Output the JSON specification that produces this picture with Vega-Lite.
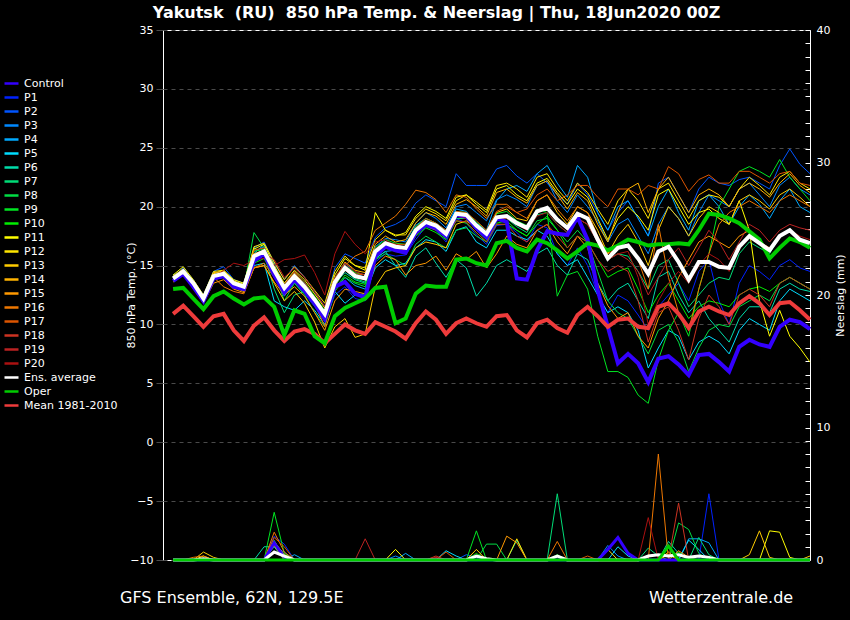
{
  "$schema": "https://vega.github.io/schema/vega-lite/v6.json",
  "width": 647,
  "height": 530,
  "autosize": {"type": "none"},
  "padding": {"left": 163, "top": 30, "right": 40, "bottom": 60},
  "background": "#000000",
  "title": {
    "text": "Yakutsk \u00a0(RU) \u00a0850 hPa Temp. & Neerslag | Thu, 18Jun2020 00Z",
    "color": "#ffffff",
    "font": "DejaVu Sans",
    "fontSize": 16,
    "fontWeight": "bold",
    "anchor": "middle",
    "dx": -50,
    "offset": 3
  },
  "config": {
    "view": {"stroke": "#ffffff", "strokeWidth": 1},
    "font": "DejaVu Sans",
    "axis": {"labelFont": "DejaVu Sans", "titleFont": "DejaVu Sans"}
  },
  "datasets": {
    "temp": [
      {"h":6,"Control":13.7,"P1":13.8,"P2":14.0,"P3":14.1,"P4":14.2,"P5":13.9,"P6":13.8,"P7":13.9,"P8":14.0,"P9":13.9,"P10":13.7,"P11":14.2,"P12":14.1,"P13":13.8,"P14":14.0,"P15":13.6,"P16":14.1,"P17":14.0,"P18":13.8,"P19":13.9,"P20":13.7,"Avg":13.9,"Oper":13.0,"Mean":10.9},
      {"h":12,"Control":14.3,"P1":14.4,"P2":14.8,"P3":14.6,"P4":14.5,"P5":14.3,"P6":14.4,"P7":14.6,"P8":14.5,"P9":14.5,"P10":14.2,"P11":14.9,"P12":14.7,"P13":14.4,"P14":14.7,"P15":14.2,"P16":14.6,"P17":14.5,"P18":14.3,"P19":14.4,"P20":14.3,"Avg":14.5,"Oper":13.1,"Mean":11.6},
      {"h":18,"Control":13.2,"P1":13.0,"P2":13.8,"P3":13.6,"P4":13.5,"P5":13.3,"P6":13.4,"P7":13.6,"P8":13.4,"P9":13.5,"P10":13.2,"P11":13.8,"P12":13.7,"P13":13.3,"P14":13.6,"P15":13.1,"P16":13.4,"P17":13.5,"P18":13.3,"P19":13.4,"P20":13.3,"Avg":13.5,"Oper":12.2,"Mean":10.7},
      {"h":24,"Control":12.0,"P1":12.0,"P2":12.5,"P3":12.3,"P4":12.4,"P5":12.0,"P6":12.1,"P7":12.3,"P8":12.2,"P9":12.2,"P10":12.0,"P11":12.5,"P12":12.4,"P13":12.1,"P14":12.3,"P15":11.8,"P16":12.0,"P17":12.3,"P18":12.0,"P19":12.2,"P20":12.1,"Avg":12.2,"Oper":11.3,"Mean":9.8},
      {"h":30,"Control":13.9,"P1":14.0,"P2":14.5,"P3":14.3,"P4":14.2,"P5":14.0,"P6":14.0,"P7":14.2,"P8":14.1,"P9":14.1,"P10":13.8,"P11":14.5,"P12":14.3,"P13":13.9,"P14":14.4,"P15":13.5,"P16":14.0,"P17":14.2,"P18":14.0,"P19":14.1,"P20":14.0,"Avg":14.1,"Oper":12.4,"Mean":10.7},
      {"h":36,"Control":14.1,"P1":14.5,"P2":14.9,"P3":14.6,"P4":14.4,"P5":14.2,"P6":14.2,"P7":14.3,"P8":14.3,"P9":14.4,"P10":14.0,"P11":14.6,"P12":14.6,"P13":14.0,"P14":14.5,"P15":13.8,"P16":13.2,"P17":14.4,"P18":14.2,"P19":14.3,"P20":14.6,"Avg":14.3,"Oper":12.8,"Mean":10.9},
      {"h":42,"Control":13.2,"P1":13.4,"P2":13.8,"P3":13.6,"P4":13.6,"P5":13.3,"P6":13.5,"P7":13.5,"P8":13.4,"P9":13.6,"P10":13.3,"P11":13.8,"P12":13.7,"P13":13.2,"P14":13.6,"P15":13.0,"P16":12.8,"P17":13.5,"P18":13.3,"P19":13.6,"P20":15.2,"Avg":13.5,"Oper":12.2,"Mean":9.5},
      {"h":48,"Control":13.0,"P1":13.0,"P2":13.5,"P3":13.4,"P4":13.3,"P5":13.0,"P6":13.1,"P7":13.2,"P8":13.1,"P9":13.3,"P10":12.9,"P11":13.5,"P12":13.4,"P13":12.8,"P14":13.3,"P15":12.7,"P16":12.6,"P17":13.2,"P18":13.0,"P19":13.2,"P20":15.0,"Avg":13.2,"Oper":11.7,"Mean":8.6},
      {"h":54,"Control":15.4,"P1":15.5,"P2":16.5,"P3":16.2,"P4":16.0,"P5":15.0,"P6":15.6,"P7":16.5,"P8":17.8,"P9":16.2,"P10":15.2,"P11":16.4,"P12":16.6,"P13":14.8,"P14":16.0,"P15":14.8,"P16":14.8,"P17":16.3,"P18":15.6,"P19":15.8,"P20":15.5,"Avg":15.8,"Oper":12.2,"Mean":9.9},
      {"h":60,"Control":16.0,"P1":15.9,"P2":17.0,"P3":16.6,"P4":16.8,"P5":15.2,"P6":15.8,"P7":16.0,"P8":16.5,"P9":16.4,"P10":15.6,"P11":16.8,"P12":16.9,"P13":15.0,"P14":16.3,"P15":15.0,"P16":15.2,"P17":16.5,"P18":15.8,"P19":16.0,"P20":15.6,"Avg":16.2,"Oper":12.3,"Mean":10.6},
      {"h":66,"Control":14.2,"P1":14.0,"P2":15.2,"P3":14.6,"P4":15.0,"P5":12.0,"P6":14.2,"P7":13.0,"P8":14.5,"P9":14.8,"P10":14.0,"P11":15.0,"P12":15.3,"P13":13.5,"P14":14.8,"P15":13.6,"P16":14.0,"P17":14.8,"P18":14.5,"P19":15.5,"P20":15.0,"Avg":14.6,"Oper":11.5,"Mean":9.5},
      {"h":72,"Control":12.7,"P1":12.5,"P2":13.8,"P3":13.0,"P4":13.2,"P5":11.5,"P6":12.4,"P7":11.0,"P8":12.0,"P9":13.4,"P10":12.8,"P11":13.5,"P12":13.8,"P13":12.0,"P14":13.2,"P15":12.5,"P16":12.6,"P17":13.3,"P18":13.4,"P19":14.0,"P20":15.5,"Avg":13.1,"Oper":9.1,"Mean":8.6},
      {"h":78,"Control":13.8,"P1":13.5,"P2":15.0,"P3":14.2,"P4":14.0,"P5":11.2,"P6":13.6,"P7":12.5,"P8":13.5,"P9":14.5,"P10":13.6,"P11":14.6,"P12":14.9,"P13":12.8,"P14":14.4,"P15":13.2,"P16":13.8,"P17":14.2,"P18":14.5,"P19":14.8,"P20":15.6,"Avg":14.1,"Oper":11.2,"Mean":9.4},
      {"h":84,"Control":12.9,"P1":12.6,"P2":14.0,"P3":13.5,"P4":13.0,"P5":12.0,"P6":13.0,"P7":12.8,"P8":12.5,"P9":13.6,"P10":12.8,"P11":13.8,"P12":14.0,"P13":11.8,"P14":13.4,"P15":12.4,"P16":13.2,"P17":13.4,"P18":13.6,"P19":14.0,"P20":15.9,"Avg":13.2,"Oper":10.9,"Mean":9.6},
      {"h":90,"Control":11.8,"P1":11.5,"P2":12.8,"P3":12.3,"P4":11.8,"P5":11.2,"P6":11.9,"P7":11.6,"P8":11.0,"P9":12.4,"P10":11.7,"P11":12.6,"P12":12.9,"P13":10.2,"P14":12.2,"P15":11.0,"P16":11.8,"P17":12.3,"P18":12.2,"P19":12.8,"P20":14.4,"Avg":12.1,"Oper":9.0,"Mean":9.2},
      {"h":96,"Control":10.5,"P1":10.2,"P2":11.5,"P3":11.0,"P4":10.6,"P5":10.0,"P6":10.7,"P7":10.5,"P8":9.8,"P9":11.2,"P10":10.4,"P11":11.4,"P12":11.8,"P13":8.0,"P14":11.0,"P15":9.5,"P16":9.8,"P17":11.1,"P18":10.8,"P19":11.5,"P20":12.5,"Avg":10.9,"Oper":8.4,"Mean":8.4},
      {"h":102,"Control":13.2,"P1":12.5,"P2":14.8,"P3":13.8,"P4":13.0,"P5":12.8,"P6":13.5,"P7":13.2,"P8":12.8,"P9":14.0,"P10":13.0,"P11":14.2,"P12":14.5,"P13":9.8,"P14":13.8,"P15":12.0,"P16":13.2,"P17":13.8,"P18":13.4,"P19":14.0,"P20":16.0,"Avg":13.6,"Oper":10.7,"Mean":9.2},
      {"h":108,"Control":13.6,"P1":13.2,"P2":16.0,"P3":15.2,"P4":14.0,"P5":11.8,"P6":14.4,"P7":14.6,"P8":14.0,"P9":15.0,"P10":14.2,"P11":15.6,"P12":15.8,"P13":10.5,"P14":15.3,"P15":13.0,"P16":15.0,"P17":15.0,"P18":14.6,"P19":15.2,"P20":17.9,"Avg":14.8,"Oper":11.4,"Mean":10.0},
      {"h":114,"Control":12.6,"P1":12.2,"P2":15.6,"P3":14.3,"P4":13.3,"P5":12.5,"P6":13.8,"P7":13.9,"P8":13.5,"P9":14.4,"P10":13.6,"P11":15.0,"P12":15.0,"P13":8.9,"P14":14.6,"P15":12.8,"P16":15.8,"P17":14.3,"P18":14.0,"P19":14.5,"P20":16.8,"Avg":14.1,"Oper":11.8,"Mean":9.5},
      {"h":120,"Control":12.3,"P1":12.0,"P2":15.2,"P3":14.0,"P4":13.0,"P5":12.6,"P6":13.5,"P7":13.6,"P8":13.2,"P9":14.2,"P10":13.4,"P11":14.6,"P12":14.8,"P13":9.2,"P14":14.4,"P15":12.6,"P16":16.2,"P17":14.2,"P18":13.8,"P19":14.2,"P20":16.0,"Avg":13.9,"Oper":12.2,"Mean":9.2},
      {"h":126,"Control":15.8,"P1":15.3,"P2":17.4,"P3":16.6,"P4":15.6,"P5":14.8,"P6":15.6,"P7":16.0,"P8":15.5,"P9":16.5,"P10":15.8,"P11":19.5,"P12":17.2,"P13":13.2,"P14":16.8,"P15":15.0,"P16":18.0,"P17":16.4,"P18":16.0,"P19":16.4,"P20":17.0,"Avg":16.2,"Oper":13.1,"Mean":10.2},
      {"h":132,"Control":16.6,"P1":16.0,"P2":18.2,"P3":17.3,"P4":16.2,"P5":15.5,"P6":16.2,"P7":16.8,"P8":16.0,"P9":17.2,"P10":16.5,"P11":18.0,"P12":18.0,"P13":14.5,"P14":17.5,"P15":15.8,"P16":18.6,"P17":17.0,"P18":16.6,"P19":17.0,"P20":17.2,"Avg":16.9,"Oper":13.2,"Mean":9.8},
      {"h":138,"Control":16.3,"P1":15.8,"P2":18.5,"P3":17.2,"P4":16.3,"P5":15.0,"P6":15.0,"P7":16.4,"P8":15.5,"P9":16.9,"P10":16.2,"P11":17.5,"P12":17.6,"P13":14.8,"P14":17.0,"P15":15.5,"P16":19.2,"P17":16.8,"P18":16.4,"P19":16.8,"P20":16.6,"Avg":16.6,"Oper":10.1,"Mean":9.4},
      {"h":144,"Control":16.1,"P1":15.9,"P2":19.0,"P3":17.0,"P4":16.6,"P5":15.2,"P6":14.0,"P7":16.2,"P8":15.0,"P9":16.8,"P10":16.0,"P11":17.8,"P12":17.6,"P13":15.0,"P14":17.2,"P15":14.2,"P16":20.2,"P17":16.8,"P18":16.2,"P19":16.5,"P20":16.3,"Avg":16.5,"Oper":10.5,"Mean":8.8},
      {"h":150,"Control":17.8,"P1":17.2,"P2":20.3,"P3":18.6,"P4":18.4,"P5":16.5,"P6":15.8,"P7":17.7,"P8":16.8,"P9":18.3,"P10":17.5,"P11":19.2,"P12":19.0,"P13":16.5,"P14":18.6,"P15":15.0,"P16":21.4,"P17":18.2,"P18":17.6,"P19":18.0,"P20":17.8,"Avg":18.0,"Oper":12.6,"Mean":10.1},
      {"h":156,"Control":18.5,"P1":18.3,"P2":21.0,"P3":19.5,"P4":19.0,"P5":17.2,"P6":16.5,"P7":18.4,"P8":17.5,"P9":19.0,"P10":18.2,"P11":20.0,"P12":19.8,"P13":17.0,"P14":19.5,"P15":15.2,"P16":21.2,"P17":19.0,"P18":18.4,"P19":18.6,"P20":18.5,"Avg":18.7,"Oper":13.3,"Mean":11.1},
      {"h":162,"Control":18.2,"P1":18.0,"P2":20.5,"P3":19.0,"P4":18.6,"P5":17.0,"P6":15.2,"P7":18.0,"P8":17.0,"P9":18.6,"P10":17.8,"P11":19.6,"P12":19.4,"P13":16.8,"P14":19.2,"P15":15.8,"P16":20.6,"P17":18.6,"P18":18.0,"P19":18.2,"P20":18.2,"Avg":18.4,"Oper":13.2,"Mean":10.4},
      {"h":168,"Control":17.5,"P1":17.0,"P2":20.0,"P3":18.2,"P4":18.0,"P5":16.2,"P6":14.0,"P7":17.3,"P8":16.5,"P9":17.9,"P10":17.2,"P11":19.0,"P12":18.8,"P13":16.5,"P14":18.5,"P15":14.6,"P16":19.5,"P17":18.0,"P18":17.4,"P19":17.5,"P20":17.6,"Avg":17.7,"Oper":13.2,"Mean":9.2},
      {"h":174,"Control":19.3,"P1":19.0,"P2":22.8,"P3":20.0,"P4":19.8,"P5":18.0,"P6":15.5,"P7":19.0,"P8":18.0,"P9":19.6,"P10":18.8,"P11":20.8,"P12":20.5,"P13":18.5,"P14":20.2,"P15":16.0,"P16":21.0,"P17":19.6,"P18":18.8,"P19":19.2,"P20":19.2,"Avg":19.4,"Oper":15.5,"Mean":10.1},
      {"h":180,"Control":19.2,"P1":18.6,"P2":21.8,"P3":20.2,"P4":19.6,"P5":18.3,"P6":14.8,"P7":19.0,"P8":18.2,"P9":19.5,"P10":18.6,"P11":21.0,"P12":21.0,"P13":18.8,"P14":20.6,"P15":15.5,"P16":20.8,"P17":19.5,"P18":18.7,"P19":19.0,"P20":19.0,"Avg":19.3,"Oper":15.6,"Mean":10.5},
      {"h":186,"Control":18.2,"P1":17.6,"P2":21.8,"P3":19.5,"P4":18.6,"P5":17.0,"P6":12.4,"P7":18.0,"P8":17.5,"P9":18.7,"P10":17.8,"P11":20.2,"P12":20.4,"P13":18.2,"P14":20.0,"P15":16.2,"P16":19.8,"P17":18.8,"P18":17.8,"P19":18.0,"P20":18.2,"Avg":18.4,"Oper":15.2,"Mean":10.1},
      {"h":192,"Control":17.4,"P1":16.8,"P2":21.8,"P3":18.8,"P4":18.0,"P5":16.5,"P6":13.5,"P7":17.2,"P8":17.0,"P9":18.0,"P10":17.0,"P11":19.5,"P12":19.7,"P13":17.5,"P14":19.2,"P15":14.8,"P16":19.0,"P17":18.0,"P18":17.0,"P19":17.5,"P20":17.6,"Avg":17.7,"Oper":15.0,"Mean":9.8},
      {"h":198,"Control":19.0,"P1":18.4,"P2":23.2,"P3":20.6,"P4":20.5,"P5":18.0,"P6":15.0,"P7":18.8,"P8":18.5,"P9":19.4,"P10":18.6,"P11":21.5,"P12":21.8,"P13":19.5,"P14":21.2,"P15":16.0,"P16":20.2,"P17":19.6,"P18":18.5,"P19":19.0,"P20":19.0,"Avg":19.1,"Oper":16.9,"Mean":10.7},
      {"h":204,"Control":18.7,"P1":18.5,"P2":23.5,"P3":21.0,"P4":21.5,"P5":18.0,"P6":15.5,"P7":19.0,"P8":18.5,"P9":19.6,"P10":18.8,"P11":21.8,"P12":22.0,"P13":19.8,"P14":21.5,"P15":17.5,"P16":20.2,"P17":20.0,"P18":18.5,"P19":19.2,"P20":19.0,"Avg":19.2,"Oper":17.1,"Mean":10.8},
      {"h":210,"Control":13.9,"P1":17.8,"P2":22.6,"P3":20.6,"P4":21.8,"P5":17.5,"P6":15.0,"P7":18.3,"P8":18.0,"P9":18.8,"P10":18.0,"P11":21.0,"P12":21.5,"P13":19.0,"P14":20.8,"P15":16.8,"P16":19.5,"P17":19.5,"P18":17.5,"P19":18.6,"P20":18.5,"Avg":18.6,"Oper":16.5,"Mean":9.5},
      {"h":216,"Control":13.8,"P1":17.0,"P2":22.0,"P3":20.0,"P4":21.3,"P5":17.2,"P6":14.5,"P7":17.8,"P8":17.5,"P9":18.4,"P10":17.5,"P11":20.5,"P12":20.8,"P13":18.8,"P14":20.3,"P15":16.5,"P16":19.0,"P17":19.8,"P18":17.0,"P19":18.0,"P20":18.0,"Avg":18.2,"Oper":16.2,"Mean":8.9},
      {"h":222,"Control":16.3,"P1":18.5,"P2":22.8,"P3":21.8,"P4":22.8,"P5":18.0,"P6":16.0,"P7":19.3,"P8":18.8,"P9":19.8,"P10":18.5,"P11":22.0,"P12":22.5,"P13":20.5,"P14":21.8,"P15":18.0,"P16":20.5,"P17":21.0,"P18":18.0,"P19":19.5,"P20":19.2,"Avg":19.6,"Oper":17.2,"Mean":10.1},
      {"h":228,"Control":17.9,"P1":18.2,"P2":22.0,"P3":22.2,"P4":23.5,"P5":17.5,"P6":16.5,"P7":19.5,"P8":19.0,"P9":19.5,"P10":19.2,"P11":22.4,"P12":22.8,"P13":21.0,"P14":22.2,"P15":18.5,"P16":21.0,"P17":21.5,"P18":18.5,"P19":19.8,"P20":19.5,"Avg":19.9,"Oper":16.9,"Mean":10.4},
      {"h":234,"Control":17.7,"P1":16.0,"P2":21.0,"P3":20.5,"P4":22.0,"P5":16.0,"P6":15.0,"P7":18.5,"P8":18.0,"P9":12.4,"P10":18.0,"P11":21.2,"P12":21.5,"P13":19.5,"P14":21.0,"P15":17.0,"P16":19.8,"P17":20.5,"P18":17.5,"P19":18.8,"P20":18.5,"Avg":18.9,"Oper":16.3,"Mean":9.7},
      {"h":240,"Control":17.6,"P1":15.0,"P2":20.2,"P3":19.5,"P4":20.8,"P5":15.0,"P6":14.2,"P7":17.8,"P8":17.0,"P9":14.2,"P10":16.5,"P11":20.2,"P12":20.5,"P13":18.5,"P14":19.8,"P15":16.0,"P16":18.8,"P17":21.0,"P18":16.5,"P19":18.0,"P20":17.8,"Avg":18.2,"Oper":15.6,"Mean":9.3},
      {"h":246,"Control":19.1,"P1":16.5,"P2":22.0,"P3":21.0,"P4":23.5,"P5":15.5,"P6":16.0,"P7":19.0,"P8":18.0,"P9":14.5,"P10":17.5,"P11":21.5,"P12":22.0,"P13":20.0,"P14":21.2,"P15":17.5,"P16":20.0,"P17":21.8,"P18":17.5,"P19":19.0,"P20":19.0,"Avg":19.4,"Oper":16.2,"Mean":10.8},
      {"h":252,"Control":17.2,"P1":15.0,"P2":21.0,"P3":20.0,"P4":22.5,"P5":14.0,"P6":15.5,"P7":18.5,"P8":17.0,"P9":13.0,"P10":17.0,"P11":20.8,"P12":21.2,"P13":19.5,"P14":20.5,"P15":16.5,"P16":19.5,"P17":21.8,"P18":17.0,"P19":18.5,"P20":18.5,"Avg":19.0,"Oper":16.9,"Mean":11.5},
      {"h":258,"Control":12.9,"P1":12.5,"P2":19.5,"P3":18.8,"P4":19.5,"P5":12.5,"P6":13.5,"P7":17.0,"P8":14.5,"P9":9.0,"P10":15.5,"P11":19.0,"P12":19.8,"P13":18.0,"P14":18.5,"P15":13.5,"P16":17.5,"P17":20.8,"P18":15.5,"P19":17.0,"P20":17.0,"Avg":17.2,"Oper":16.7,"Mean":10.7},
      {"h":264,"Control":9.8,"P1":11.0,"P2":18.0,"P3":17.0,"P4":18.0,"P5":11.0,"P6":12.0,"P7":15.5,"P8":12.0,"P9":6.0,"P10":14.0,"P11":17.2,"P12":18.5,"P13":16.0,"P14":17.0,"P15":11.6,"P16":16.0,"P17":20.0,"P18":14.5,"P19":15.5,"P20":15.5,"Avg":15.6,"Oper":16.3,"Mean":9.8},
      {"h":270,"Control":6.7,"P1":12.5,"P2":19.5,"P3":18.5,"P4":20.0,"P5":11.5,"P6":13.0,"P7":16.0,"P8":11.0,"P9":6.0,"P10":14.5,"P11":19.0,"P12":20.5,"P13":17.5,"P14":19.5,"P15":10.5,"P16":16.5,"P17":21.5,"P18":15.0,"P19":16.0,"P20":16.0,"Avg":16.5,"Oper":16.7,"Mean":10.4},
      {"h":276,"Control":7.5,"P1":12.0,"P2":20.5,"P3":19.0,"P4":20.5,"P5":11.0,"P6":13.5,"P7":15.8,"P8":10.5,"P9":5.5,"P10":14.8,"P11":20.0,"P12":21.5,"P13":18.5,"P14":21.5,"P15":11.0,"P16":16.8,"P17":21.5,"P18":14.5,"P19":15.5,"P20":16.2,"Avg":16.7,"Oper":17.2,"Mean":10.5},
      {"h":282,"Control":6.7,"P1":10.8,"P2":19.0,"P3":17.5,"P4":19.0,"P5":9.5,"P6":12.0,"P7":14.5,"P8":9.0,"P9":4.0,"P10":13.0,"P11":19.2,"P12":20.5,"P13":17.0,"P14":22.0,"P15":9.0,"P16":15.5,"P17":21.0,"P18":12.0,"P19":14.5,"P20":14.0,"Avg":15.6,"Oper":17.0,"Mean":9.8},
      {"h":288,"Control":5.1,"P1":9.5,"P2":17.5,"P3":16.0,"P4":17.5,"P5":6.3,"P6":10.5,"P7":13.0,"P8":7.5,"P9":3.3,"P10":11.0,"P11":18.0,"P12":19.0,"P13":15.0,"P14":19.5,"P15":8.0,"P16":13.0,"P17":21.8,"P18":8.5,"P19":12.5,"P20":10.0,"Avg":14.3,"Oper":16.7,"Mean":9.7},
      {"h":294,"Control":7.1,"P1":11.5,"P2":22.0,"P3":18.5,"P4":20.0,"P5":8.0,"P6":14.0,"P7":15.0,"P8":9.5,"P9":7.0,"P10":12.5,"P11":21.0,"P12":21.5,"P13":18.0,"P14":21.5,"P15":10.5,"P16":18.5,"P17":21.5,"P18":11.0,"P19":14.0,"P20":12.0,"Avg":16.2,"Oper":16.8,"Mean":11.5},
      {"h":300,"Control":7.3,"P1":12.5,"P2":22.5,"P3":20.0,"P4":21.5,"P5":9.5,"P6":14.5,"P7":15.5,"P8":10.0,"P9":9.5,"P10":13.5,"P11":21.5,"P12":22.0,"P13":20.0,"P14":22.5,"P15":12.0,"P16":14.0,"P17":23.4,"P18":11.5,"P19":15.5,"P20":13.5,"Avg":16.6,"Oper":16.8,"Mean":11.8},
      {"h":306,"Control":6.6,"P1":13.5,"P2":21.0,"P3":19.0,"P4":19.5,"P5":9.0,"P6":12.5,"P7":13.5,"P8":8.5,"P9":11.0,"P10":12.0,"P11":20.0,"P12":20.5,"P13":19.0,"P14":21.0,"P15":14.0,"P16":11.0,"P17":22.8,"P18":9.5,"P19":16.5,"P20":14.5,"Avg":15.3,"Oper":16.9,"Mean":10.9},
      {"h":312,"Control":5.7,"P1":12.0,"P2":19.5,"P3":17.5,"P4":18.0,"P5":7.0,"P6":11.0,"P7":11.5,"P8":6.0,"P9":9.0,"P10":10.5,"P11":18.5,"P12":19.0,"P13":17.5,"P14":19.5,"P15":15.5,"P16":9.5,"P17":21.3,"P18":7.0,"P19":15.0,"P20":13.5,"Avg":13.8,"Oper":16.8,"Mean":9.7},
      {"h":318,"Control":7.4,"P1":14.5,"P2":21.5,"P3":19.5,"P4":20.5,"P5":8.5,"P6":12.0,"P7":12.5,"P8":8.0,"P9":13.0,"P10":11.5,"P11":19.5,"P12":20.5,"P13":19.0,"P14":21.0,"P15":17.0,"P16":13.0,"P17":22.3,"P18":10.5,"P19":16.5,"P20":15.0,"Avg":15.3,"Oper":18.0,"Mean":11.1},
      {"h":324,"Control":7.5,"P1":15.5,"P2":22.5,"P3":21.0,"P4":21.0,"P5":9.0,"P6":10.5,"P7":13.5,"P8":9.5,"P9":16.0,"P10":12.0,"P11":19.8,"P12":21.0,"P13":20.0,"P14":21.5,"P15":17.5,"P16":16.0,"P17":22.7,"P18":12.5,"P19":18.0,"P20":16.0,"Avg":15.3,"Oper":19.4,"Mean":11.5},
      {"h":330,"Control":6.8,"P1":12.0,"P2":22.0,"P3":20.5,"P4":20.0,"P5":8.5,"P6":9.5,"P7":14.0,"P8":10.0,"P9":20.0,"P10":11.8,"P11":19.0,"P12":20.8,"P13":19.5,"P14":21.0,"P15":17.0,"P16":18.5,"P17":22.0,"P18":11.5,"P19":17.0,"P20":15.5,"Avg":14.9,"Oper":19.3,"Mean":11.1},
      {"h":336,"Control":6.0,"P1":10.0,"P2":21.8,"P3":20.0,"P4":18.5,"P5":7.5,"P6":8.5,"P7":13.8,"P8":9.8,"P9":21.5,"P10":11.5,"P11":18.5,"P12":20.0,"P13":18.5,"P14":20.0,"P15":16.5,"P16":19.5,"P17":22.0,"P18":10.0,"P19":15.5,"P20":14.5,"Avg":14.8,"Oper":19.0,"Mean":10.8},
      {"h":342,"Control":8.1,"P1":13.5,"P2":22.3,"P3":21.5,"P4":20.0,"P5":9.5,"P6":10.5,"P7":16.0,"P8":11.5,"P9":23.0,"P10":12.5,"P11":20.5,"P12":21.5,"P13":20.5,"P14":21.5,"P15":17.5,"P16":20.0,"P17":23.0,"P18":12.5,"P19":17.0,"P20":16.5,"Avg":16.6,"Oper":18.6,"Mean":11.8},
      {"h":348,"Control":8.7,"P1":15.0,"P2":22.5,"P3":22.0,"P4":21.0,"P5":10.5,"P6":11.5,"P7":17.0,"P8":12.0,"P9":23.4,"P10":13.0,"P11":18.0,"P12":22.5,"P13":21.0,"P14":22.0,"P15":18.0,"P16":20.5,"P17":23.0,"P18":13.0,"P19":18.5,"P20":17.5,"Avg":17.5,"Oper":17.9,"Mean":12.4},
      {"h":354,"Control":8.3,"P1":14.5,"P2":22.0,"P3":21.0,"P4":20.2,"P5":10.0,"P6":11.5,"P7":16.5,"P8":12.5,"P9":23.0,"P10":13.2,"P11":12.0,"P12":21.8,"P13":20.5,"P14":21.5,"P15":17.0,"P16":20.0,"P17":22.5,"P18":12.5,"P19":18.0,"P20":17.0,"Avg":16.9,"Oper":17.2,"Mean":11.8},
      {"h":360,"Control":8.1,"P1":13.8,"P2":21.5,"P3":20.0,"P4":19.0,"P5":9.5,"P6":11.0,"P7":16.0,"P8":12.0,"P9":22.5,"P10":12.8,"P11":9.0,"P12":21.0,"P13":19.8,"P14":20.8,"P15":16.5,"P16":19.5,"P17":22.0,"P18":11.5,"P19":17.0,"P20":16.5,"Avg":16.3,"Oper":15.6,"Mean":10.8},
      {"h":366,"Control":9.8,"P1":15.0,"P2":23.5,"P3":21.8,"P4":20.5,"P5":12.0,"P6":13.0,"P7":17.5,"P8":13.5,"P9":24.0,"P10":13.5,"P11":11.2,"P12":22.5,"P13":21.0,"P14":22.0,"P15":17.5,"P16":20.5,"P17":22.8,"P18":13.5,"P19":18.0,"P20":17.5,"Avg":17.5,"Oper":16.5,"Mean":11.8},
      {"h":372,"Control":10.4,"P1":15.5,"P2":24.9,"P3":22.5,"P4":21.5,"P5":13.0,"P6":13.5,"P7":18.0,"P8":14.0,"P9":22.5,"P10":14.0,"P11":9.0,"P12":23.0,"P13":21.5,"P14":22.8,"P15":18.0,"P16":21.0,"P17":23.0,"P18":14.0,"P19":18.5,"P20":18.0,"Avg":18.0,"Oper":17.3,"Mean":11.9},
      {"h":378,"Control":10.2,"P1":14.8,"P2":23.6,"P3":21.5,"P4":20.0,"P5":12.5,"P6":13.0,"P7":17.0,"P8":13.5,"P9":21.5,"P10":13.5,"P11":8.0,"P12":22.0,"P13":20.8,"P14":21.8,"P15":17.2,"P16":20.5,"P17":22.0,"P18":13.5,"P19":18.2,"P20":17.5,"Avg":17.2,"Oper":17.0,"Mean":11.2},
      {"h":384,"Control":9.6,"P1":14.5,"P2":22.8,"P3":21.0,"P4":19.5,"P5":12.0,"P6":12.8,"P7":16.5,"P8":13.0,"P9":20.5,"P10":13.0,"P11":6.8,"P12":21.5,"P13":20.0,"P14":21.2,"P15":17.0,"P16":20.0,"P17":21.8,"P18":13.0,"P19":18.0,"P20":17.2,"Avg":16.9,"Oper":16.5,"Mean":10.4}
    ],
    "rain": [
      {"series":"Control","h":6,"mm":0},{"series":"Control","h":60,"mm":0},{"series":"Control","h":66,"mm":1.3},{"series":"Control","h":72,"mm":0.2},{"series":"Control","h":78,"mm":0},{"series":"Control","h":258,"mm":0},{"series":"Control","h":264,"mm":0.8},{"series":"Control","h":270,"mm":1.7},{"series":"Control","h":276,"mm":0.5},{"series":"Control","h":282,"mm":0},{"series":"Control","h":384,"mm":0},
      {"series":"Avg","h":6,"mm":0},{"series":"Avg","h":18,"mm":0},{"series":"Avg","h":24,"mm":0.1},{"series":"Avg","h":30,"mm":0},{"series":"Avg","h":60,"mm":0},{"series":"Avg","h":66,"mm":0.6},{"series":"Avg","h":72,"mm":0.3},{"series":"Avg","h":78,"mm":0},{"series":"Avg","h":180,"mm":0},{"series":"Avg","h":186,"mm":0.3},{"series":"Avg","h":192,"mm":0.1},{"series":"Avg","h":198,"mm":0},{"series":"Avg","h":228,"mm":0},{"series":"Avg","h":234,"mm":0.3},{"series":"Avg","h":240,"mm":0},{"series":"Avg","h":282,"mm":0},{"series":"Avg","h":288,"mm":0.3},{"series":"Avg","h":294,"mm":0.4},{"series":"Avg","h":300,"mm":0.3},{"series":"Avg","h":306,"mm":0.4},{"series":"Avg","h":312,"mm":0.2},{"series":"Avg","h":318,"mm":0.3},{"series":"Avg","h":324,"mm":0.2},{"series":"Avg","h":330,"mm":0},{"series":"Avg","h":384,"mm":0},
      {"series":"Oper","h":6,"mm":0},{"series":"Oper","h":294,"mm":0},{"series":"Oper","h":300,"mm":1.05},{"series":"Oper","h":306,"mm":0},{"series":"Oper","h":384,"mm":0},
      {"series":"P1","h":6,"mm":0},{"series":"P1","h":60,"mm":0},{"series":"P1","h":66,"mm":1.8},{"series":"P1","h":72,"mm":1.2},{"series":"P1","h":78,"mm":0},{"series":"P1","h":318,"mm":0},{"series":"P1","h":324,"mm":5.0},{"series":"P1","h":330,"mm":0},{"series":"P1","h":384,"mm":0},
      {"series":"P2","h":6,"mm":0},{"series":"P2","h":60,"mm":0},{"series":"P2","h":66,"mm":1.0},{"series":"P2","h":72,"mm":0.6},{"series":"P2","h":78,"mm":0},{"series":"P2","h":174,"mm":0},{"series":"P2","h":180,"mm":0.4},{"series":"P2","h":186,"mm":0.2},{"series":"P2","h":192,"mm":0},{"series":"P2","h":384,"mm":0},
      {"series":"P3","h":6,"mm":0},{"series":"P3","h":132,"mm":0},{"series":"P3","h":138,"mm":0.3},{"series":"P3","h":144,"mm":0},{"series":"P3","h":258,"mm":0},{"series":"P3","h":264,"mm":1.1},{"series":"P3","h":270,"mm":0.3},{"series":"P3","h":276,"mm":0},{"series":"P3","h":384,"mm":0},
      {"series":"P4","h":6,"mm":0},{"series":"P4","h":72,"mm":0},{"series":"P4","h":78,"mm":0.4},{"series":"P4","h":84,"mm":0},{"series":"P4","h":138,"mm":0},{"series":"P4","h":144,"mm":0.5},{"series":"P4","h":150,"mm":0},{"series":"P4","h":306,"mm":0},{"series":"P4","h":312,"mm":1.6},{"series":"P4","h":318,"mm":1.6},{"series":"P4","h":324,"mm":1.3},{"series":"P4","h":330,"mm":0},{"series":"P4","h":384,"mm":0},
      {"series":"P5","h":6,"mm":0},{"series":"P5","h":162,"mm":0},{"series":"P5","h":168,"mm":0.7},{"series":"P5","h":174,"mm":0.3},{"series":"P5","h":180,"mm":0},{"series":"P5","h":264,"mm":0},{"series":"P5","h":270,"mm":1.0},{"series":"P5","h":276,"mm":0.3},{"series":"P5","h":282,"mm":0},{"series":"P5","h":306,"mm":0},{"series":"P5","h":312,"mm":1.5},{"series":"P5","h":318,"mm":0.8},{"series":"P5","h":324,"mm":0},{"series":"P5","h":384,"mm":0},
      {"series":"P6","h":6,"mm":0},{"series":"P6","h":54,"mm":0},{"series":"P6","h":60,"mm":1.0},{"series":"P6","h":66,"mm":1.0},{"series":"P6","h":72,"mm":0},{"series":"P6","h":204,"mm":0},{"series":"P6","h":210,"mm":1.5},{"series":"P6","h":216,"mm":0},{"series":"P6","h":294,"mm":0},{"series":"P6","h":300,"mm":1.4},{"series":"P6","h":306,"mm":0.5},{"series":"P6","h":312,"mm":0},{"series":"P6","h":384,"mm":0},
      {"series":"P7","h":6,"mm":0},{"series":"P7","h":228,"mm":0},{"series":"P7","h":234,"mm":5.0},{"series":"P7","h":240,"mm":0},{"series":"P7","h":282,"mm":0},{"series":"P7","h":288,"mm":0.9},{"series":"P7","h":294,"mm":0.3},{"series":"P7","h":300,"mm":0},{"series":"P7","h":312,"mm":0},{"series":"P7","h":318,"mm":1.7},{"series":"P7","h":324,"mm":0.4},{"series":"P7","h":330,"mm":0},{"series":"P7","h":384,"mm":0},
      {"series":"P8","h":6,"mm":0},{"series":"P8","h":60,"mm":0},{"series":"P8","h":66,"mm":1.5},{"series":"P8","h":72,"mm":0},{"series":"P8","h":186,"mm":0},{"series":"P8","h":192,"mm":1.2},{"series":"P8","h":198,"mm":1.2},{"series":"P8","h":204,"mm":0},{"series":"P8","h":300,"mm":0},{"series":"P8","h":306,"mm":2.8},{"series":"P8","h":312,"mm":2.3},{"series":"P8","h":318,"mm":0.5},{"series":"P8","h":324,"mm":0},{"series":"P8","h":384,"mm":0},
      {"series":"P9","h":6,"mm":0},{"series":"P9","h":60,"mm":0},{"series":"P9","h":66,"mm":3.6},{"series":"P9","h":72,"mm":0.5},{"series":"P9","h":78,"mm":0},{"series":"P9","h":180,"mm":0},{"series":"P9","h":186,"mm":2.2},{"series":"P9","h":192,"mm":0},{"series":"P9","h":228,"mm":0},{"series":"P9","h":234,"mm":0.4},{"series":"P9","h":240,"mm":0},{"series":"P9","h":384,"mm":0},
      {"series":"P10","h":6,"mm":0},{"series":"P10","h":180,"mm":0},{"series":"P10","h":186,"mm":0.5},{"series":"P10","h":192,"mm":0},{"series":"P10","h":300,"mm":0},{"series":"P10","h":306,"mm":0.6},{"series":"P10","h":312,"mm":0},{"series":"P10","h":384,"mm":0},
      {"series":"P11","h":6,"mm":0},{"series":"P11","h":18,"mm":0},{"series":"P11","h":24,"mm":0.3},{"series":"P11","h":30,"mm":0},{"series":"P11","h":132,"mm":0},{"series":"P11","h":138,"mm":0.8},{"series":"P11","h":144,"mm":0},{"series":"P11","h":354,"mm":0},{"series":"P11","h":360,"mm":2.2},{"series":"P11","h":366,"mm":2.1},{"series":"P11","h":372,"mm":0.2},{"series":"P11","h":378,"mm":0},{"series":"P11","h":384,"mm":0},
      {"series":"P12","h":6,"mm":0},{"series":"P12","h":60,"mm":0},{"series":"P12","h":66,"mm":1.4},{"series":"P12","h":72,"mm":0.4},{"series":"P12","h":78,"mm":0},{"series":"P12","h":204,"mm":0},{"series":"P12","h":210,"mm":1.6},{"series":"P12","h":216,"mm":0},{"series":"P12","h":258,"mm":0},{"series":"P12","h":264,"mm":0.8},{"series":"P12","h":270,"mm":0},{"series":"P12","h":384,"mm":0},
      {"series":"P13","h":6,"mm":0},{"series":"P13","h":18,"mm":0},{"series":"P13","h":24,"mm":0.6},{"series":"P13","h":30,"mm":0.2},{"series":"P13","h":36,"mm":0},{"series":"P13","h":180,"mm":0},{"series":"P13","h":186,"mm":0.8},{"series":"P13","h":192,"mm":0},{"series":"P13","h":294,"mm":0},{"series":"P13","h":300,"mm":0.6},{"series":"P13","h":306,"mm":0},{"series":"P13","h":342,"mm":0},{"series":"P13","h":348,"mm":0.4},{"series":"P13","h":354,"mm":2.2},{"series":"P13","h":360,"mm":0.2},{"series":"P13","h":366,"mm":0},{"series":"P13","h":378,"mm":0},{"series":"P13","h":384,"mm":0.3},
      {"series":"P14","h":6,"mm":0},{"series":"P14","h":60,"mm":0},{"series":"P14","h":66,"mm":1.1},{"series":"P14","h":72,"mm":0},{"series":"P14","h":294,"mm":0},{"series":"P14","h":300,"mm":0.4},{"series":"P14","h":306,"mm":0},{"series":"P14","h":384,"mm":0},
      {"series":"P15","h":6,"mm":0},{"series":"P15","h":198,"mm":0},{"series":"P15","h":204,"mm":1.8},{"series":"P15","h":210,"mm":1.3},{"series":"P15","h":216,"mm":0},{"series":"P15","h":300,"mm":0},{"series":"P15","h":306,"mm":0.7},{"series":"P15","h":312,"mm":0.2},{"series":"P15","h":318,"mm":0},{"series":"P15","h":384,"mm":0},
      {"series":"P16","h":6,"mm":0},{"series":"P16","h":12,"mm":0},{"series":"P16","h":18,"mm":0.2},{"series":"P16","h":24,"mm":0.3},{"series":"P16","h":30,"mm":0},{"series":"P16","h":60,"mm":0},{"series":"P16","h":66,"mm":2.1},{"series":"P16","h":72,"mm":0.6},{"series":"P16","h":78,"mm":0},{"series":"P16","h":228,"mm":0},{"series":"P16","h":234,"mm":1.4},{"series":"P16","h":240,"mm":0},{"series":"P16","h":288,"mm":0},{"series":"P16","h":294,"mm":8.0},{"series":"P16","h":300,"mm":0},{"series":"P16","h":384,"mm":0},
      {"series":"P17","h":6,"mm":0},{"series":"P17","h":60,"mm":0},{"series":"P17","h":66,"mm":1.7},{"series":"P17","h":72,"mm":1.0},{"series":"P17","h":78,"mm":0},{"series":"P17","h":162,"mm":0},{"series":"P17","h":168,"mm":0.6},{"series":"P17","h":174,"mm":0},{"series":"P17","h":246,"mm":0},{"series":"P17","h":252,"mm":0.3},{"series":"P17","h":258,"mm":0},{"series":"P17","h":384,"mm":0},
      {"series":"P18","h":6,"mm":0},{"series":"P18","h":156,"mm":0},{"series":"P18","h":162,"mm":0.3},{"series":"P18","h":168,"mm":0},{"series":"P18","h":300,"mm":0},{"series":"P18","h":306,"mm":4.3},{"series":"P18","h":312,"mm":0},{"series":"P18","h":384,"mm":0},
      {"series":"P19","h":6,"mm":0},{"series":"P19","h":114,"mm":0},{"series":"P19","h":120,"mm":1.6},{"series":"P19","h":126,"mm":0},{"series":"P19","h":156,"mm":0},{"series":"P19","h":162,"mm":0.2},{"series":"P19","h":168,"mm":0},{"series":"P19","h":384,"mm":0},
      {"series":"P20","h":6,"mm":0},{"series":"P20","h":282,"mm":0},{"series":"P20","h":288,"mm":3.2},{"series":"P20","h":294,"mm":0},{"series":"P20","h":384,"mm":0}
    ]
  },
  "layer": [
    {
      "data": {"name": "rain"},
      "transform": [{"filter": "datum.series != 'Control' && datum.series != 'Avg' && datum.series != 'Oper'"}],
      "mark": {"type": "line", "strokeWidth": 1},
      "encoding": {
        "x": {"field": "h", "type": "quantitative", "scale": {"domain": [0, 384]}, "axis": null},
        "y": {
          "field": "mm", "type": "quantitative",
          "scale": {"domain": [0, 40], "nice": false},
          "axis": {
            "orient": "right",
            "values": [0,1,2,3,4,5,6,7,8,9,10,11,12,13,14,15,16,17,18,19,20,21,22,23,24,25,26,27,28,29,30,31,32,33,34,35,36,37,38,39,40],
            "labelExpr": "datum.value % 10 == 0 ? datum.label : ''",
            "grid": false,
            "domain": false,
            "offset": -5,
            "tickSize": 5,
            "tickColor": "#ffffff",
            "labelColor": "#ffffff",
            "labelFontSize": 11,
            "labelPadding": 6,
            "labelOverlap": false,
            "title": "Neerslag (mm)",
            "titleAngle": 270,
            "titleX": 35,
            "titleY": 265,
            "titleAlign": "center",
            "titleBaseline": "middle",
            "titleColor": "#ffffff",
            "titleFontSize": 11,
            "titleFontWeight": "normal"
          }
        },
        "color": {
          "field": "series", "type": "nominal",
          "scale": {
            "domain": ["Control","P1","P2","P3","P4","P5","P6","P7","P8","P9","P10","P11","P12","P13","P14","P15","P16","P17","P18","P19","P20","Avg","Oper","Mean"],
            "range": ["#3300ff","#0022ff","#0055ff","#0088ff","#00aaff","#00ddff","#00ddaa","#00dd77","#00dd44","#00e622","#00ee00","#ffff00","#ffe600","#ffcc00","#ffb300","#ff9900","#ee7700","#dd5500","#cc3322","#bb2222","#aa1111","#ffffff","#00cc00","#ee3b3b"]
          },
          "legend": {
            "orient": "none",
            "legendX": -160,
            "legendY": 45,
            "title": null,
            "padding": 0,
            "symbolType": "stroke",
            "symbolSize": 196,
            "symbolStrokeWidth": 2.5,
            "labelColor": "#ffffff",
            "labelFontSize": 11,
            "labelFont": "DejaVu Sans",
            "labelOffset": 4,
            "rowPadding": 0,
            "symbolLimit": 0,
            "labelExpr": "datum.label == 'Avg' ? 'Ens. average' : datum.label == 'Mean' ? 'Mean 1981-2010' : datum.label"
          }
        }
      }
    },
    {
      "data": {"name": "rain"},
      "transform": [{"filter": "datum.series == 'Control' || datum.series == 'Avg' || datum.series == 'Oper'"}],
      "mark": {"type": "line", "strokeWidth": 3},
      "encoding": {
        "x": {"field": "h", "type": "quantitative", "scale": {"domain": [0, 384]}, "axis": null},
        "y": {"field": "mm", "type": "quantitative", "scale": {"domain": [0, 40], "nice": false}, "axis": null},
        "color": {
          "field": "series", "type": "nominal",
          "scale": {
            "domain": ["Control","P1","P2","P3","P4","P5","P6","P7","P8","P9","P10","P11","P12","P13","P14","P15","P16","P17","P18","P19","P20","Avg","Oper","Mean"],
            "range": ["#3300ff","#0022ff","#0055ff","#0088ff","#00aaff","#00ddff","#00ddaa","#00dd77","#00dd44","#00e622","#00ee00","#ffff00","#ffe600","#ffcc00","#ffb300","#ff9900","#ee7700","#dd5500","#cc3322","#bb2222","#aa1111","#ffffff","#00cc00","#ee3b3b"]
          },
          "legend": null
        }
      }
    },
    {
      "data": {"name": "temp"},
      "transform": [{"fold": ["P1","P2","P3","P4","P5","P6","P7","P8","P9","P10","P11","P12","P13","P14","P15","P16","P17","P18","P19","P20"], "as": ["series", "t"]}],
      "mark": {"type": "line", "strokeWidth": 1},
      "encoding": {
        "x": {
          "field": "h", "type": "quantitative",
          "scale": {"domain": [0, 384]},
          "axis": {
            "values": [0,24,48,72,96,120,144,168,192,216,240,264,288,312,336,360,384],
            "labelExpr": "datum.value % 48 == 0 ? ['18Jun 00z','20Jun 00z','22Jun 00z','24Jun 00z','26Jun 00z','28Jun 00z','30Jun 00z','02Jul 00z','04Jul 00z'][datum.value / 48] : ''",
            "grid": true,
            "gridColor": "#4a4a4a",
            "gridDash": [4, 4],
            "ticks": false,
            "domain": false,
            "labelColor": "#ffffff",
            "labelFontSize": 11,
            "labelPadding": 7,
            "labelFlush": false,
            "labelOverlap": false,
            "title": "Date (UTC)",
            "titleColor": "#ffffff",
            "titleFontSize": 11,
            "titleFontWeight": "normal",
            "titlePadding": 4
          }
        },
        "y": {
          "field": "t", "type": "quantitative",
          "scale": {"domain": [-10, 35], "nice": false, "zero": false},
          "axis": {
            "values": [-10,-5,0,5,10,15,20,25,30,35],
            "grid": true,
            "gridColor": "#4a4a4a",
            "gridDash": [4, 4],
            "domain": false,
            "tickColor": "#4a4a4a",
            "tickSize": 7,
            "labelColor": "#ffffff",
            "labelFontSize": 11,
            "labelPadding": 3,
            "title": "850 hPa Temp. (°C)",
            "titleX": -32,
            "titleY": 265,
            "titleAlign": "center",
            "titleBaseline": "middle",
            "titleColor": "#ffffff",
            "titleFontSize": 11,
            "titleFontWeight": "normal"
          }
        },
        "color": {
          "field": "series", "type": "nominal",
          "scale": {
            "domain": ["Control","P1","P2","P3","P4","P5","P6","P7","P8","P9","P10","P11","P12","P13","P14","P15","P16","P17","P18","P19","P20","Avg","Oper","Mean"],
            "range": ["#3300ff","#0022ff","#0055ff","#0088ff","#00aaff","#00ddff","#00ddaa","#00dd77","#00dd44","#00e622","#00ee00","#ffff00","#ffe600","#ffcc00","#ffb300","#ff9900","#ee7700","#dd5500","#cc3322","#bb2222","#aa1111","#ffffff","#00cc00","#ee3b3b"]
          },
          "legend": null
        }
      }
    },
    {
      "data": {"name": "temp"},
      "transform": [{"fold": ["Control", "Mean", "Oper", "Avg"], "as": ["series", "t"]}],
      "mark": {"type": "line", "strokeWidth": 4},
      "encoding": {
        "x": {"field": "h", "type": "quantitative", "scale": {"domain": [0, 384]}, "axis": null},
        "y": {"field": "t", "type": "quantitative", "scale": {"domain": [-10, 35], "nice": false, "zero": false}, "axis": null},
        "color": {
          "field": "series", "type": "nominal",
          "scale": {
            "domain": ["Control","P1","P2","P3","P4","P5","P6","P7","P8","P9","P10","P11","P12","P13","P14","P15","P16","P17","P18","P19","P20","Avg","Oper","Mean"],
            "range": ["#3300ff","#0022ff","#0055ff","#0088ff","#00aaff","#00ddff","#00ddaa","#00dd77","#00dd44","#00e622","#00ee00","#ffff00","#ffe600","#ffcc00","#ffb300","#ff9900","#ee7700","#dd5500","#cc3322","#bb2222","#aa1111","#ffffff","#00cc00","#ee3b3b"]
          },
          "legend": null
        }
      }
    },
    {
      "data": {"values": [{}]},
      "mark": {"type": "text", "text": "GFS Ensemble, 62N, 129.5E", "align": "left", "baseline": "middle", "fontSize": 16, "font": "DejaVu Sans", "color": "#ffffff"},
      "encoding": {
        "x": {"datum": -25.5, "type": "quantitative", "scale": {"domain": [0, 384]}, "axis": null},
        "y": {"datum": -13.2, "type": "quantitative", "scale": {"domain": [-10, 35], "nice": false, "zero": false}, "axis": null}
      }
    },
    {
      "data": {"values": [{}]},
      "mark": {"type": "text", "text": "Wetterzentrale.de", "align": "right", "baseline": "middle", "fontSize": 16, "font": "DejaVu Sans", "color": "#ffffff"},
      "encoding": {
        "x": {"datum": 374, "type": "quantitative", "scale": {"domain": [0, 384]}, "axis": null},
        "y": {"datum": -13.2, "type": "quantitative", "scale": {"domain": [-10, 35], "nice": false, "zero": false}, "axis": null}
      }
    }
  ],
  "resolve": {"scale": {"y": "independent"}}
}
